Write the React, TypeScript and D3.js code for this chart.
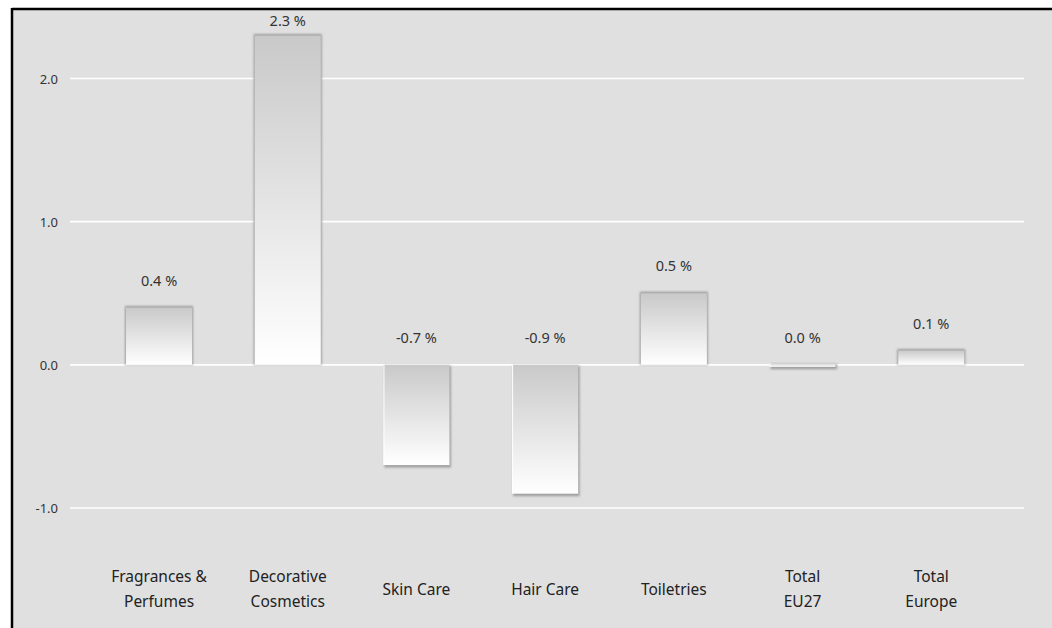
import React from "react";
import * as d3 from "d3";

// Growth by product category (%)
const categories: string[][] = [
  ["Fragrances &", "Perfumes"],
  ["Decorative", "Cosmetics"],
  ["Skin Care"],
  ["Hair Care"],
  ["Toiletries"],
  ["Total", "EU27"],
  ["Total", "Europe"],
];
const growth: number[] = [0.4, 2.3, -0.7, -0.9, 0.5, 0.0, 0.1];
const yTicks: number[] = [-1.0, 0.0, 1.0, 2.0];

const W = 1052;
const H = 628;
const FONT = "'Noto Sans', 'DejaVu Sans', sans-serif";

export default function App() {
  const keys = categories.map((c) => c.join(" "));
  const x = d3
    .scaleBand<string>()
    .domain(keys)
    .range([94.7, 995.6])
    .paddingInner(0.487)
    .paddingOuter(0.2435);
  const y = d3.scaleLinear().domain([-1, 2]).range([508, 78.5]);
  const y0 = y(0);
  const fmt = (v: number) => d3.format(".1f")(v).replace("\u2212", "-");

  return (
    <svg
      width={W}
      height={H}
      style={{ position: "absolute", left: 0, top: 0, background: "#ffffff" }}
      fontFamily={FONT}
    >
      <defs>
        <linearGradient id="barFill" x1="0" y1="0" x2="0" y2="1">
          <stop offset="0%" stopColor="#c9c9c9" />
          <stop offset="100%" stopColor="#ffffff" />
        </linearGradient>
        <filter id="soft" x="-20%" y="-20%" width="140%" height="140%">
          <feGaussianBlur stdDeviation="1.1" />
        </filter>
      </defs>

      {/* panel */}
      <rect x={12} y={9} width={W - 12} height={H - 9} fill="#e0e0e0" />
      <line x1={12} x2={W} y1={9} y2={9} stroke="#000" strokeWidth={2.5} />
      <line x1={12} x2={12} y1={8} y2={H} stroke="#000" strokeWidth={2.5} />

      {/* grid and y tick labels */}
      {yTicks.map((t) => (
        <g key={t}>
          <line x1={70} x2={1024} y1={y(t)} y2={y(t)} stroke="#ffffff" strokeWidth={1.6} />
          <text
            x={58}
            y={y(t)}
            textAnchor="end"
            dominantBaseline="central"
            fontSize={13}
            fill="#333"
          >
            {fmt(t)}
          </text>
        </g>
      ))}

      {/* bars */}
      {growth.map((v, i) => {
        const bx = x(keys[i]) as number;
        const bw = x.bandwidth();
        const pos = v > 0;
        let top = pos ? y(v) : y0;
        let h = Math.abs(y(v) - y0);
        if (h < 3) {
          top = y0 - 2;
          h = 4;
        }
        return (
          <g key={keys[i]}>
            {pos ? (
              <rect
                x={bx - 1}
                y={top - 1.5}
                width={bw + 2}
                height={h + 1.5}
                fill="#9c9c9c"
                filter="url(#soft)"
              />
            ) : (
              <rect
                x={bx + 1}
                y={top + 1}
                width={bw + 0.5}
                height={h + 1.5}
                fill="#a0a0a0"
                filter="url(#soft)"
              />
            )}
            <rect x={bx} y={top} width={bw} height={h} fill="url(#barFill)" />
            {!pos && (
              <line x1={bx + 0.5} x2={bx + 0.5} y1={top} y2={top + h} stroke="#ffffff" strokeWidth={1} />
            )}
            <text
              x={bx + bw / 2}
              y={Math.max(y(Math.max(v, 0)) - 28, 20)}
              textAnchor="middle"
              dominantBaseline="central"
              fontSize={14.5}
              fill="#333"
            >
              {`${fmt(v)} %`}
            </text>
          </g>
        );
      })}

      {/* category labels */}
      {categories.map((lines, i) => {
        const cx = (x(keys[i]) as number) + x.bandwidth() / 2;
        const startY = lines.length === 1 ? 589 : 576;
        return (
          <text
            key={keys[i]}
            x={cx}
            textAnchor="middle"
            fontSize={15.5}
            fill="#222"
          >
            {lines.map((ln, j) => (
              <tspan key={j} x={cx} y={startY + j * 25} dominantBaseline="central">
                {ln}
              </tspan>
            ))}
          </text>
        );
      })}
    </svg>
  );
}
